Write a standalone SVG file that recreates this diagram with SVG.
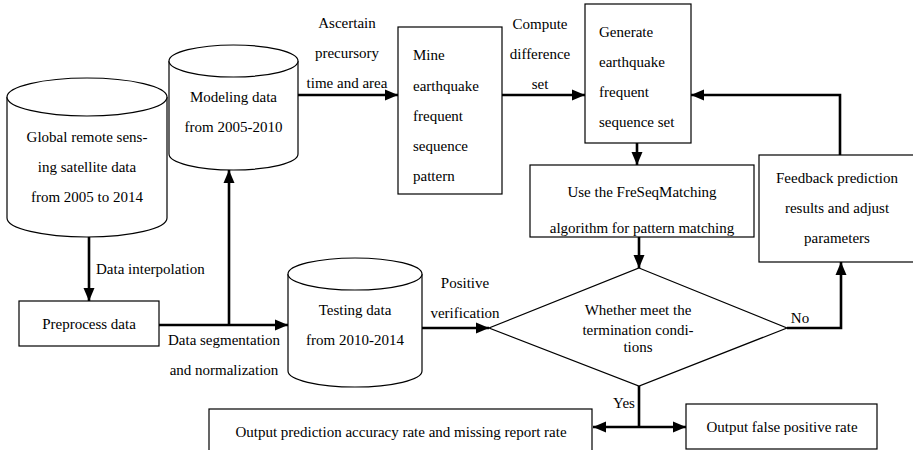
<svg xmlns="http://www.w3.org/2000/svg" width="913" height="450" viewBox="0 0 913 450" font-family="'Liberation Serif', 'DejaVu Serif', serif">
<style>
.shape{fill:#fff;stroke:#000;stroke-width:1.2}
.conn{fill:none;stroke:#000;stroke-width:2.6}
.t{font-family:'Liberation Serif','DejaVu Serif',serif;font-size:15px;fill:#000}
.c{text-anchor:middle}
</style>
<defs>
<marker id="arr" markerUnits="userSpaceOnUse" markerWidth="14" markerHeight="14" viewBox="0 0 14 14" refX="13" refY="7" orient="auto">
<path d="M0,1.5 L13,7 L0,12.5 Z" fill="#000"/>
</marker>
</defs>
<rect width="913" height="450" fill="#fff"/>

<g id="global">
<path class="shape" d="M7,97 L7,218 A80,19 0 0 0 167,218 L167,97"/>
<ellipse class="shape" cx="87" cy="97" rx="80" ry="19"/>
<text class="t c" x="87" y="142">Global remote sens-</text>
<text class="t c" x="87" y="172">ing satellite data</text>
<text class="t c" x="87" y="202">from 2005 to 2014</text>
</g>

<g id="modeling">
<path class="shape" d="M169,61 L169,154 A64.5,16 0 0 0 298,154 L298,61"/>
<ellipse class="shape" cx="233.5" cy="61" rx="64.5" ry="16"/>
<text class="t c" x="233.5" y="102">Modeling data</text>
<text class="t c" x="233.5" y="132">from 2005-2010</text>
</g>

<g id="testing">
<path class="shape" d="M288,274 L288,371 A67,16 0 0 0 422,371 L422,274"/>
<ellipse class="shape" cx="355" cy="274" rx="67" ry="16"/>
<text class="t c" x="355" y="315">Testing data</text>
<text class="t c" x="355" y="345">from 2010-2014</text>
</g>

<g id="preprocess">
<rect class="shape" x="19" y="301" width="140" height="45"/>
<text class="t c" x="89" y="329">Preprocess data</text>
</g>

<g id="mine">
<rect class="shape" x="398" y="27" width="104" height="167"/>
<text class="t" x="413" y="60">Mine</text>
<text class="t" x="413" y="91">earthquake</text>
<text class="t" x="413" y="121">frequent</text>
<text class="t" x="413" y="151">sequence</text>
<text class="t" x="413" y="181">pattern</text>
</g>

<g id="generate">
<rect class="shape" x="585" y="4" width="106" height="139"/>
<text class="t" x="599" y="37">Generate</text>
<text class="t" x="599" y="67">earthquake</text>
<text class="t" x="599" y="97">frequent</text>
<text class="t" x="599" y="127">sequence set</text>
</g>

<g id="use">
<rect class="shape" x="530" y="165" width="224" height="72"/>
<text class="t c" x="642" y="197">Use the FreSeqMatching</text>
<text class="t c" x="642" y="233">algorithm for pattern matching</text>
</g>

<g id="feedback">
<rect class="shape" x="759" y="155" width="160" height="107"/>
<text class="t c" x="837" y="183">Feedback prediction</text>
<text class="t c" x="837" y="213">results and adjust</text>
<text class="t c" x="837" y="243">parameters</text>
</g>

<g id="decision">
<polygon class="shape" points="639,268 787,328 639,386 489,328"/>
<text class="t c" x="638" y="315">Whether meet the</text>
<text class="t c" x="638" y="335">termination condi-</text>
<text class="t c" x="638" y="352">tions</text>
</g>

<g id="out-accuracy">
<rect class="shape" x="209" y="409" width="383" height="45"/>
<text class="t c" x="401" y="437">Output prediction accuracy rate and missing report rate</text>
</g>

<g id="out-false">
<rect class="shape" x="686" y="404" width="191" height="45"/>
<text class="t c" x="782" y="432">Output false positive rate</text>
</g>

<g id="connectors">
<path class="conn" d="M89,237 L89,301" marker-end="url(#arr)"/>
<path class="conn" d="M159,325 L288,325" marker-end="url(#arr)"/>
<path class="conn" d="M229,325 L229,170" marker-end="url(#arr)"/>
<path class="conn" d="M298,95 L398,95" marker-end="url(#arr)"/>
<path class="conn" d="M502,95 L585,95" marker-end="url(#arr)"/>
<path class="conn" d="M637,143 L637,165" marker-end="url(#arr)"/>
<path class="conn" d="M639,237 L639,268" marker-end="url(#arr)"/>
<path class="conn" d="M422,328 L489,328" marker-end="url(#arr)"/>
<path class="conn" d="M787,328 L841,328 L841,262" marker-end="url(#arr)"/>
<path class="conn" d="M840,155 L840,95 L691,95" marker-end="url(#arr)"/>
<path class="conn" d="M639,386 L639,427"/>
<path class="conn" d="M639,427 L593,427" marker-end="url(#arr)"/>
<path class="conn" d="M639,427 L686,427" marker-end="url(#arr)"/>
<text class="t c" x="347" y="28">Ascertain</text>
<text class="t c" x="347" y="58">precursory</text>
<text class="t c" x="347" y="88">time and area</text>
<text class="t c" x="540" y="29">Compute</text>
<text class="t c" x="540" y="59">difference</text>
<text class="t c" x="540" y="89">set</text>
<text class="t" x="96" y="274">Data interpolation</text>
<text class="t c" x="224" y="345">Data segmentation</text>
<text class="t c" x="224" y="375">and normalization</text>
<text class="t c" x="465" y="288">Positive</text>
<text class="t c" x="465" y="318">verification</text>
<text class="t c" x="800" y="323">No</text>
<text class="t c" x="624" y="408">Yes</text>
</g>
</svg>
